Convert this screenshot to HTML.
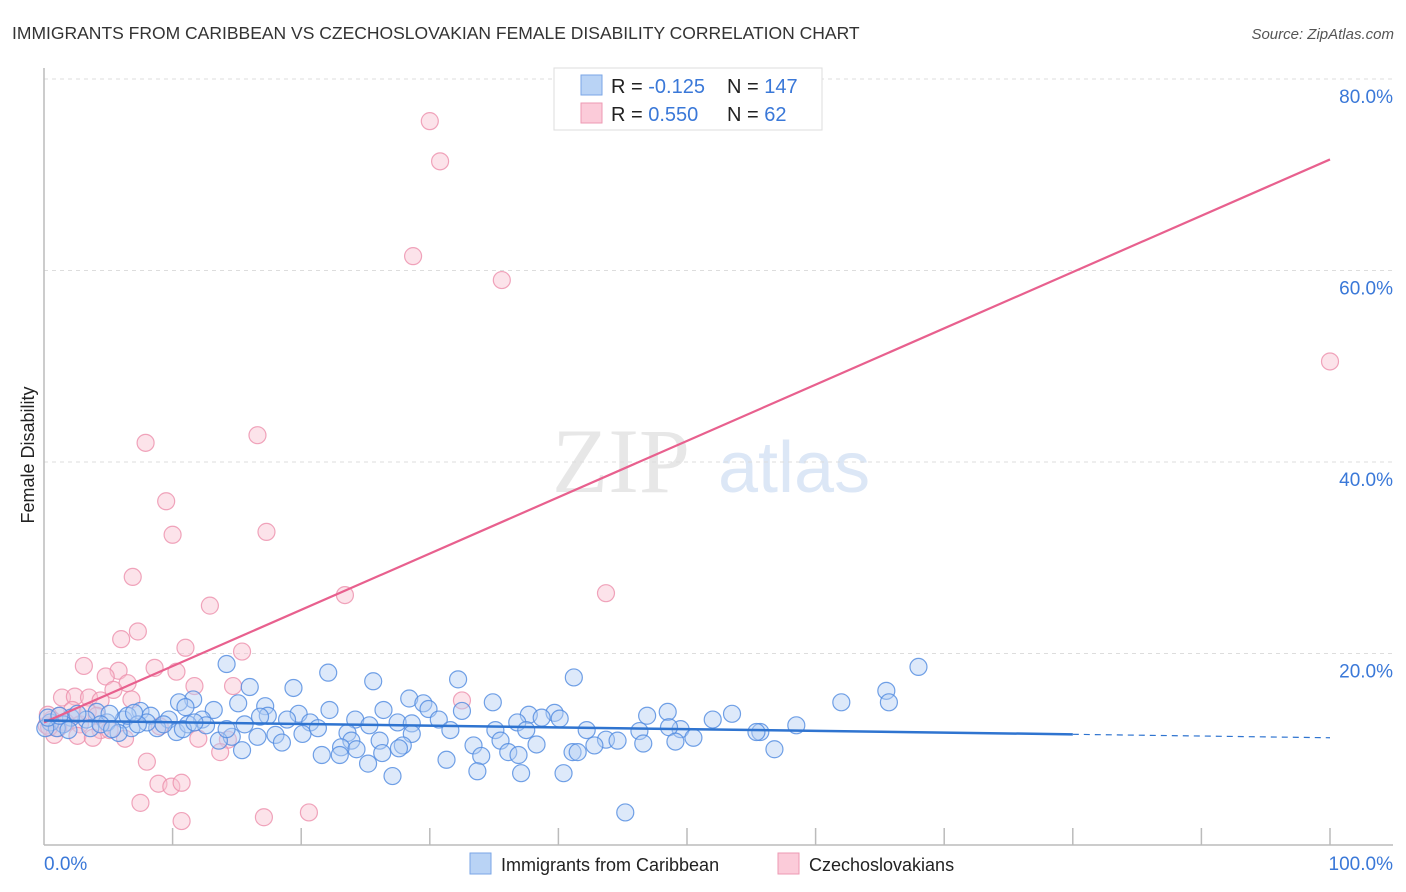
<!DOCTYPE html>
<html><head><meta charset="utf-8">
<style>
body{margin:0;background:#fff;font-family:"Liberation Sans",sans-serif;}
#wrap{position:relative;width:1406px;height:892px;overflow:hidden;}
svg{position:absolute;left:0;top:0;}
</style></head>
<body>
<div id="wrap">
<svg id="chart" width="1406" height="892">
  <text x="12" y="39" font-size="17.5" fill="#333">IMMIGRANTS FROM CARIBBEAN VS CZECHOSLOVAKIAN FEMALE DISABILITY CORRELATION CHART</text>
  <text x="1394" y="39" font-size="15" fill="#555" font-style="italic" text-anchor="end">Source: ZipAtlas.com</text>
  <text x="0" y="0" transform="translate(34,455) rotate(-90)" font-size="18" fill="#222" text-anchor="middle">Female Disability</text>
  <g opacity="0.35">
    <text x="552" y="492" font-size="92" font-family="Liberation Serif,serif" fill="#bbb">ZIP</text>
    <text x="718" y="492" font-size="72" fill="#9dbbe8">atlas</text>
  </g>
  <g id="grid"></g>
  <g id="axes"></g>
  <g id="pinkPts"></g>
  <g id="bluePts"></g>
  <g id="lines"></g>
  <g>
    <rect x="554" y="68" width="268" height="62" fill="#fff" stroke="#ddd"/>
    <rect x="581" y="75" width="21" height="20" fill="#b9d3f5" stroke="#7aa6e6"/>
    <rect x="581" y="103" width="21" height="20" fill="#fbcbd9" stroke="#ee9ab3"/>
    <text x="611" y="93" font-size="20" fill="#222">R = <tspan fill="#3a78d8">-0.125</tspan></text>
    <text x="727" y="93" font-size="20" fill="#222">N = <tspan fill="#3a78d8">147</tspan></text>
    <text x="611" y="121" font-size="20" fill="#222">R = <tspan fill="#3a78d8"> 0.550</tspan></text>
    <text x="727" y="121" font-size="20" fill="#222">N = <tspan fill="#3a78d8">  62</tspan></text>
  </g>
  <g>
    <rect x="470" y="853" width="21" height="21" fill="#b9d3f5" stroke="#7aa6e6"/>
    <text x="501" y="871" font-size="18" fill="#222">Immigrants from Caribbean</text>
    <rect x="778" y="853" width="21" height="21" fill="#fbcbd9" stroke="#ee9ab3"/>
    <text x="809" y="871" font-size="18" fill="#222">Czechoslovakians</text>
  </g>
</svg>
</div>
<script>
const xTicks=[0,10,20,30,40,50,60,70,80,90,100];
const yTicks=[20,40,60,80];
const yTickLabels=["20.0%","40.0%","60.0%","80.0%"];
const xEndLabels=["0.0%","100.0%"];
const blueX=[14.2,16.0,19.4,22.1,25.6,32.2,41.2,68.0,65.5,65.7,62.0,11.6,10.5,28.4,34.9,17.2,15.1,11.0,13.2,22.2,26.4,29.5,29.9,32.5,39.7,37.7,46.9,48.5,53.5,52.0,7.5,8.3,4.1,19.8,17.4,24.2,30.7,36.8,38.7,40.1,12.3,9.7,6.2,4.9,3.3,2.1,1.5,0.5,1.0,15.6,20.7,18.9,25.3,27.5,28.6,42.2,37.5,35.1,31.6,46.3,49.5,48.6,58.5,55.7,55.4,28.6,23.6,18.0,14.6,16.6,20.1,21.3,10.3,8.8,6.8,5.8,50.5,43.7,44.6,23.9,26.1,13.6,18.5,35.5,38.3,33.4,46.6,49.1,42.8,27.9,23.1,24.3,27.6,15.4,21.6,23.0,26.3,36.1,36.9,41.1,41.5,34.0,56.8,31.3,25.2,33.7,27.1,37.1,40.4,45.2,6.5,2.6,5.1,8.0,11.2,0.1,0.3,1.2,3.6,4.4,5.3,7.3,9.3,12.6,14.2,16.8,7.0,10.8,11.7,1.9];
const blueY=[18.9,16.5,16.4,18.0,17.1,17.3,17.5,18.6,16.1,14.9,14.9,15.2,14.9,15.3,14.9,14.5,14.8,14.4,14.1,14.1,14.1,14.8,14.2,14.0,13.8,13.6,13.5,13.9,13.7,13.1,14.0,13.5,13.9,13.7,13.5,13.1,13.1,12.8,13.3,13.2,13.1,13.1,13.1,12.8,13.1,13.3,12.6,12.8,12.2,12.6,12.8,13.1,12.5,12.8,12.7,12.0,12.0,12.0,12.0,11.9,12.1,12.3,12.5,11.8,11.8,11.6,11.7,11.5,11.3,11.3,11.6,12.2,11.8,12.2,12.2,11.7,11.2,11.0,10.9,10.9,10.9,10.9,10.7,10.9,10.5,10.4,10.6,10.8,10.4,10.4,10.2,10.0,10.1,9.9,9.4,9.4,9.6,9.7,9.4,9.7,9.7,9.3,10.0,8.9,8.5,7.7,7.2,7.5,7.5,3.4,13.5,13.7,13.7,12.8,12.6,12.2,13.3,13.5,12.2,12.6,12.1,12.6,12.6,12.5,12.1,13.4,13.8,12.1,12.8,12.0];
const pinkX=[30.0,30.8,28.7,35.6,100,7.9,16.6,9.5,10.0,17.3,6.9,23.4,43.7,12.9,7.3,6.0,11.0,15.4,3.1,8.6,10.3,5.8,4.8,6.5,11.7,14.7,5.4,1.4,2.4,3.5,4.4,6.8,32.5,2.2,1.2,0.6,2.8,4.4,9.0,2.6,3.8,6.3,12.0,14.3,13.7,8.0,8.9,9.9,10.7,7.5,10.7,17.1,20.6,0.2,1.7,1.1,3.4,5.1,0.3,0.8,4.1,0.4];
const pinkY=[75.6,71.4,61.5,59.0,50.5,42.0,42.8,35.9,32.4,32.7,28.0,26.1,26.3,25.0,22.3,21.5,20.6,20.2,18.7,18.5,18.1,18.2,17.6,16.9,16.6,16.6,16.2,15.4,15.5,15.4,15.1,15.2,15.1,14.1,13.5,13.1,12.6,12.0,12.4,11.4,11.2,11.1,11.1,11.0,9.7,8.7,6.4,6.1,6.5,4.4,2.5,2.9,3.4,12.5,12.8,12.2,13.9,12.0,13.6,11.5,13.5,12.3];
const blueFit=[13.0,-0.018]; // intercept, slope
const pinkFit=[12.8,0.588];
const blueSolidEnd=80;

const NS="http://www.w3.org/2000/svg";
const X0=44,X1=1330,Y0=845,PXPER=9.575;
const sx=v=>X0+(X1-X0)*v/100;
const sy=v=>Y0-v*PXPER;
function mk(tag,attrs,parent){const e=document.createElementNS(NS,tag);for(const k in attrs)e.setAttribute(k,attrs[k]);parent.appendChild(e);return e;}

const grid=document.getElementById('grid');
yTicks.forEach((t,i)=>{
  const l=mk('line',{x1:X0,x2:1393,y1:sy(t),y2:sy(t),stroke:'#ddd','stroke-dasharray':'4,4'},grid);
  
  
  const tx=mk('text',{x:1393,y:sy(t)+24,'font-size':19,fill:'#3a78d8','text-anchor':'end'},grid);
  tx.textContent=yTickLabels[i];
  
  
});
const axes=document.getElementById('axes');
let a=mk('line',{x1:X0,x2:X0,y1:68,y2:Y0,stroke:'#bbb','stroke-width':1.5},axes);


a=mk('line',{x1:X0,x2:1393,y1:Y0,y2:Y0,stroke:'#bbb','stroke-width':1.5},axes);


xTicks.forEach(t=>{
  if(t===0)return;
  const k=mk('line',{x1:sx(t),x2:sx(t),y1:Y0,y2:Y0-17,stroke:'#bbb','stroke-width':1.5},axes);
  
  
});
let lx=mk('text',{x:44,y:870,'font-size':19,fill:'#3a78d8'},axes);
lx.textContent=xEndLabels[0];


lx=mk('text',{x:1393,y:870,'font-size':19,fill:'#3a78d8','text-anchor':'end'},axes);
lx.textContent=xEndLabels[1];



function pts(xs,ys,g,fill,stroke,name){
  xs.forEach((x,i)=>{
    const c=mk('circle',{cx:sx(x),cy:sy(ys[i]),r:8.5,fill:fill,'fill-opacity':0.45,stroke:stroke,'stroke-opacity':0.8,'stroke-width':1.2},g);
    
    
  });
}
pts(pinkX,pinkY,document.getElementById('pinkPts'),'#f9c0d1','#ec8eab','czech-point');
pts(blueX,blueY,document.getElementById('bluePts'),'#b3cff3','#4f8ae0','caribbean-point');

const lines=document.getElementById('lines');
const f=(fit,x)=>fit[0]+fit[1]*x;
let ln=mk('line',{x1:sx(0),y1:sy(f(pinkFit,0)),x2:sx(100),y2:sy(f(pinkFit,100)),stroke:'#e8608e','stroke-width':2.2},lines);


ln=mk('line',{x1:sx(0),y1:sy(f(blueFit,0)),x2:sx(blueSolidEnd),y2:sy(f(blueFit,blueSolidEnd)),stroke:'#2f74d0','stroke-width':2.5},lines);


ln=mk('line',{x1:sx(blueSolidEnd),y1:sy(f(blueFit,blueSolidEnd)),x2:sx(100),y2:sy(f(blueFit,100)),stroke:'#2f74d0','stroke-width':1.2,'stroke-dasharray':'6,5'},lines);


</script>
</body></html>
